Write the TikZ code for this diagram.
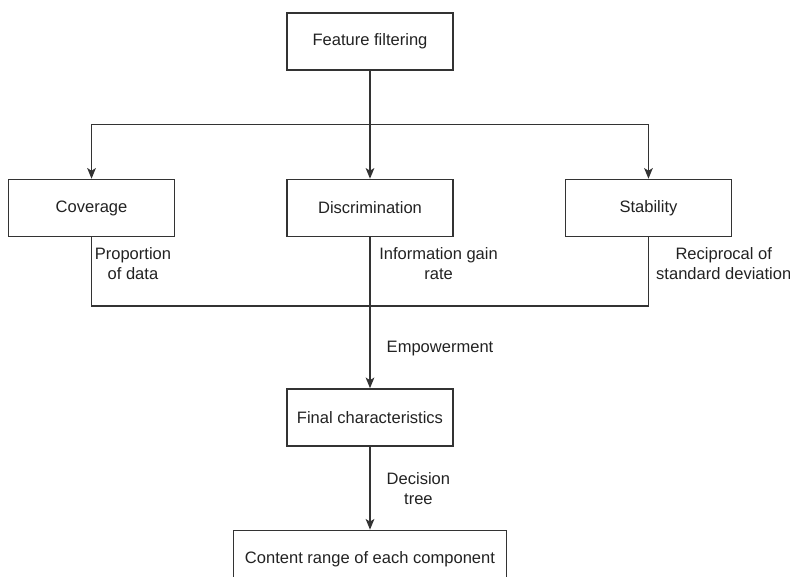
\documentclass[tikz,border=0pt]{standalone}
\usepackage{fontspec}
\setmainfont{Liberation Sans}
\usetikzlibrary{arrows.meta, positioning, calc}
\definecolor{lineDark}{HTML}{333333}
\definecolor{textDark}{HTML}{222222}

\begin{document}
\begin{tikzpicture}[
    box/.style={rectangle, draw=lineDark, line width=1.1pt, fill=white,
      minimum width=124.5pt, minimum height=42.75pt, align=center,
      font=\fontsize{12.4}{15}\selectfont, text=textDark},
    wide/.style={box, minimum width=204.75pt},
    ar/.style={-{Stealth[length=8pt, width=6.5pt, inset=2pt]}, line width=1.1pt, lineDark},
    ln/.style={line width=1.1pt, lineDark},
    lbl/.style={inner sep=0pt, align=center, font=\fontsize{12.4}{15}\selectfont, text=textDark}]
    \useasboundingbox (0,0) rectangle (592.5pt,-432.75pt);
    \node[box] (ff) at (277.5pt,-31.125pt) {Feature filtering};
    \node[box, below=81pt of ff] (dis) {Discrimination};
    \node[box, left=83.25pt of dis] (cov) {Coverage};
    \node[box, right=83.25pt of dis] (sta) {Stability};
    \node[box, below=113.25pt of dis] (fin) {Final characteristics};
    \node[wide, below=62.25pt of fin] (out) {Content range of each component};
    % split and join points
    \coordinate (split) at ($(ff.south)!.5!(dis.north)$);
    \coordinate[below=51.75pt of dis.south] (join);
    \draw[ar] (ff) -- (dis);
    \draw[ar] (split) -| (cov);
    \draw[ar] (split) -| (sta);
    \draw[ln] (cov) |- (join) -| (sta);
    \draw[ar] (dis) -- node[lbl, pos=.735, right=12pt] (emp) {Empowerment} (fin);
    \draw[ar] (fin) -- node[lbl, pos=.5, right=12pt] (dt) {Decision\\tree} (out);
    % edge labels
    \node[lbl, below right=7.5pt and 2.25pt of cov.south] (pd) {Proportion\\of data};
    \node[lbl, below right=7.5pt and 6.75pt of dis.south] (ig) {Information gain\\rate};
    \node[lbl, below right=7.5pt and 5.6pt of sta.south] (rs) {Reciprocal of\\standard deviation};
  \end{tikzpicture}
\end{document}
